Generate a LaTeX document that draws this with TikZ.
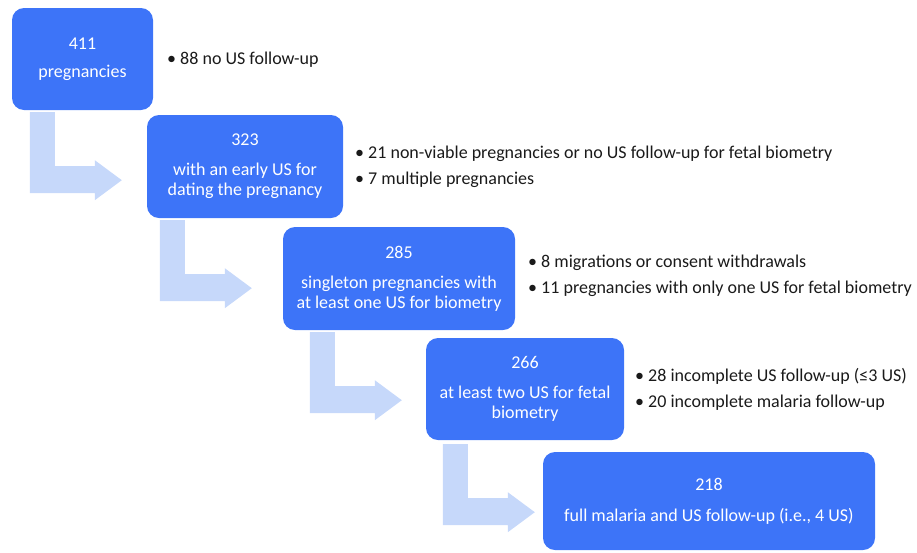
\documentclass[tikz,border=0pt]{standalone}
\usepackage{fontspec}
\setmainfont{Carlito}
\usetikzlibrary{calc}
\definecolor{boxblue}{RGB}{61,116,248}
\definecolor{arrowblue}{RGB}{198,216,250}
\definecolor{txt}{RGB}{26,26,26}
\newcommand\leqsym{\iffontchar\font"2264 ≤\else$\leq$\fi}
\begin{document}
\begin{tikzpicture}[x=1pt,y=-1pt,
  stagebox/.style={fill=boxblue, rounded corners=12pt, text=white, align=center,
    inner sep=0pt, font=\fontsize{18}{20}\selectfont},
  note/.style={anchor=west, align=left, inner sep=0pt, text=txt,
    font=\fontsize{18}{26}\selectfont},
  bent/.pic={\fill[arrowblue] (0,0) -- (25,0) -- (25,54) -- (65,54) -- (65,48)
    -- (92,68) -- (65,88) -- (65,81) -- (0,81) -- cycle;}
]
\useasboundingbox (0,0) rectangle (917,552);

\node[stagebox, minimum width=141pt, minimum height=102pt] (b1) at (82.5,59)
  {\raisebox{-2pt}{411}\\[8pt]\raisebox{-2pt}{pregnancies}};
\node[stagebox, minimum width=196pt, minimum height=103pt] (b2) at (245,166.5)
  {323\\[10pt]with an early US for\\dating the pregnancy};
\node[stagebox, minimum width=232pt, minimum height=103pt] (b3) at (399,278.5)
  {285\\[10pt]singleton pregnancies with\\at least one US for biometry};
\node[stagebox, minimum width=198pt, minimum height=102pt] (b4) at (525,389)
  {266\\[10pt]at least two US for fetal\\biometry};
\node[stagebox, minimum width=332pt, minimum height=98pt] (b5) at (709,501)
  {218\\[11pt]full malaria and US follow-up (i.e., 4 US)};

\node[note] (n1) at (167,60) {• 88 no US follow-up};
\node[note] (n2) at (355,166.5) {• 21 non-viable pregnancies or no US follow-up for fetal biometry\\• 7 multiple pregnancies};
\node[note] (n3) at (528,276) {• 8 migrations or consent withdrawals\\• 11 pregnancies with only one US for fetal biometry};
\node[note] (n4) at (635,389) {• 28 incomplete US follow-up (\leqsym3 US)\\• 20 incomplete malaria follow-up};

\pic at ($(b1.south west)+(18,2)$) {bent};
\pic at ($(b2.south west)+(13,2)$) {bent};
\pic at ($(b3.south west)+(27,2)$) {bent};
\pic at ($(b4.south west)+(17,4)$) {bent};
\end{tikzpicture}
\end{document}
